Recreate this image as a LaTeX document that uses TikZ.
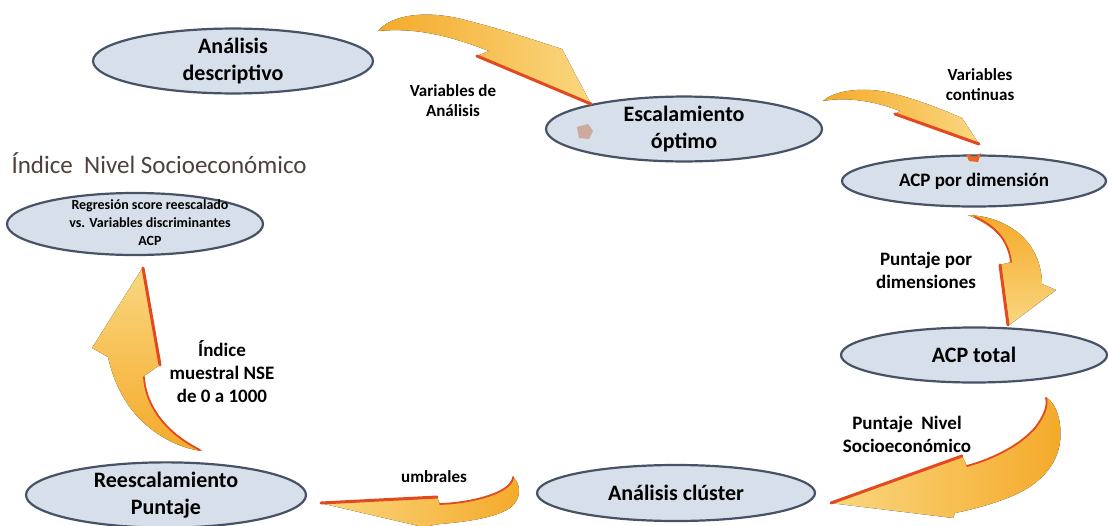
\documentclass[tikz,border=0pt]{standalone}
\usepackage{fontspec}
\setmainfont{Carlito}
\usetikzlibrary{shapes.geometric}
\definecolor{nodefill}{RGB}{214,223,234}
\definecolor{nodeline}{RGB}{72,82,102}
\definecolor{arroworange}{RGB}{244,170,42}
\definecolor{arrowyellow}{RGB}{250,215,128}
\definecolor{arrowred}{RGB}{228,72,30}
\definecolor{titlegray}{RGB}{78,64,58}
\definecolor{markbrown}{RGB}{205,170,156}

\begin{document}
\begin{tikzpicture}[x=1pt, y=-1pt,
    stage/.style={ellipse, draw=nodeline, line width=2.2pt, fill=nodefill,
                  inner sep=0pt, align=center,
                  font=\bfseries\fontsize{22}{27}\selectfont},
    flowlabel/.style={align=center, font=\bfseries\fontsize{17}{20}\selectfont},
    biglabel/.style={align=center, font=\bfseries\fontsize{19}{23}\selectfont},
    rededge/.style={draw=arrowred, line width=3pt, line cap=round, line join=round},
    redside/.style={draw=arrowred, line width=1.8pt, line cap=round}]
  \useasboundingbox (0,0) rectangle (1108,525);

  % Nodes
  \node[stage, minimum width=280pt, minimum height=58pt] (desc)    at (233,61)  {Análisis\\descriptivo};
  \node[stage, minimum width=276pt, minimum height=58pt] (escal)   at (684,129) {Escalamiento\\óptimo};
  \node[stage, minimum width=264pt, minimum height=51pt,
        font=\bfseries\fontsize{19}{22}\selectfont]    (acpdim)  at (974,181) {ACP por dimensión};
  \node[stage, minimum width=266pt, minimum height=55pt] (acptot)  at (974,355) {ACP total};
  \node[stage, minimum width=278pt, minimum height=56pt] (cluster) at (676,493) {Análisis clúster};
  \node[stage, minimum width=280pt, minimum height=56pt] (reesc)   at (166,495) {Reescalamiento\\Puntaje};
  \node[stage, minimum width=256pt, minimum height=62pt] (regr)    at (135,224) {};
  \node[align=center, font=\bfseries\fontsize{14}{18}\selectfont] (regrtext) at (150,223)
       {Regresión score reescalado\\vs. Variables discriminantes\\ACP};

  % Title
  \node[anchor=west, text=titlegray, font=\fontsize{25}{30}\selectfont] (title) at (8,163)
       {Índice\ \ Nivel Socioeconómico};

  % Small marks
  \fill[markbrown] (577,127) -- (588,124) -- (593,131) -- (589,139) -- (579,138) -- cycle;
  \fill[arrowred!70!arroworange] (966,154) -- (975,157) -- (981,153) -- (978,162) -- (969,161) -- cycle;

  % Arrows
  % desc -> escal
  \fill[left color=arroworange, right color=arrowyellow]
    (378,31) .. controls (392,14) and (428,10) .. (465,20)
    .. controls (505,30) and (540,42) .. (562,49) -- (591,104) -- (477,56) -- (489,51)
    .. controls (455,38) and (420,27) .. (378,31) -- cycle;
  \draw[rededge] (591,104) -- (477,56);
  % escal -> acpdim
  \fill[left color=arroworange, right color=arrowyellow]
    (823,101) .. controls (835,90) and (865,86) .. (895,94)
    .. controls (925,102) and (948,112) .. (962,118) -- (979,144) -- (895,114) -- (900,111)
    .. controls (880,103) and (850,96) .. (823,101) -- cycle;
  \draw[rededge] (979,144) -- (895,114);
  % acpdim -> acptot
  \fill[top color=arroworange, bottom color=arrowyellow]
    (968,215) .. controls (995,216) and (1020,228) .. (1033,250)
    .. controls (1040,262) and (1042,275) .. (1042,284) -- (1056,290) -- (1008,326) -- (1000,265) -- (1011,262)
    .. controls (1009,245) and (1000,228) .. (968,215) -- cycle;
  \draw[rededge] (1000,265) -- (1008,325);
  \draw[redside] (1011,262) .. controls (1009,245) and (1000,228) .. (975,217);
  % acptot -> cluster
  \fill[right color=arroworange, left color=arrowyellow]
    (1046,397) .. controls (1058,405) and (1062,425) .. (1060,442)
    .. controls (1057,465) and (1040,485) .. (1010,497)
    .. controls (990,505) and (970,510) .. (955,513) -- (953,518) -- (830,503) -- (962,456) -- (967,466)
    .. controls (995,458) and (1020,445) .. (1035,428)
    .. controls (1045,415) and (1048,405) .. (1046,397) -- cycle;
  \draw[rededge] (831,503) -- (962,456);
  \draw[redside] (967,466) .. controls (995,458) and (1020,445) .. (1035,428)
    .. controls (1045,415) and (1048,405) .. (1046,398);
  % cluster -> reesc
  \fill[right color=arroworange, left color=arrowyellow]
    (513,477) .. controls (522,485) and (521,500) .. (510,508)
    .. controls (495,518) and (465,522) .. (440,524) -- (423,527) -- (320,503) -- (437,497) -- (440,504)
    .. controls (470,503) and (498,495) .. (508,486)
    .. controls (512,482) and (513,479) .. (513,477) -- cycle;
  \draw[rededge] (321,503) -- (437,497);
  \draw[redside] (440,504) .. controls (470,503) and (498,495) .. (508,486)
    .. controls (512,482) and (513,479) .. (513,477);
  % reesc -> regr
  \fill[bottom color=arroworange, top color=arrowyellow]
    (202,451) .. controls (170,447) and (140,425) .. (125,400)
    .. controls (113,380) and (110,365) .. (108,357) -- (92,348) -- (143,267) -- (160,365) -- (144,376)
    .. controls (145,400) and (160,430) .. (202,451) -- cycle;
  \draw[rededge] (143,268) -- (160,365);
  \draw[redside] (144,377) .. controls (145,400) and (160,430) .. (200,450);

  % Arrow labels
  \node[flowlabel] (lblvar)   at (453,101) {Variables de\\Análisis};
  \node[flowlabel] (lblcont)  at (980,85)  {Variables\\continuas};
  \node[biglabel]  (lblpdim)  at (926,270) {Puntaje por\\dimensiones};
  \node[biglabel]  (lblpnse)  at (907,434) {Puntaje\ \ Nivel\\Socioeconómico};
  \node[flowlabel] (lblumb)   at (434,477) {umbrales};
  \node[biglabel]  (lblindex) at (222,372) {Índice\\muestral NSE\\de 0 a 1000};
\end{tikzpicture}
\end{document}
